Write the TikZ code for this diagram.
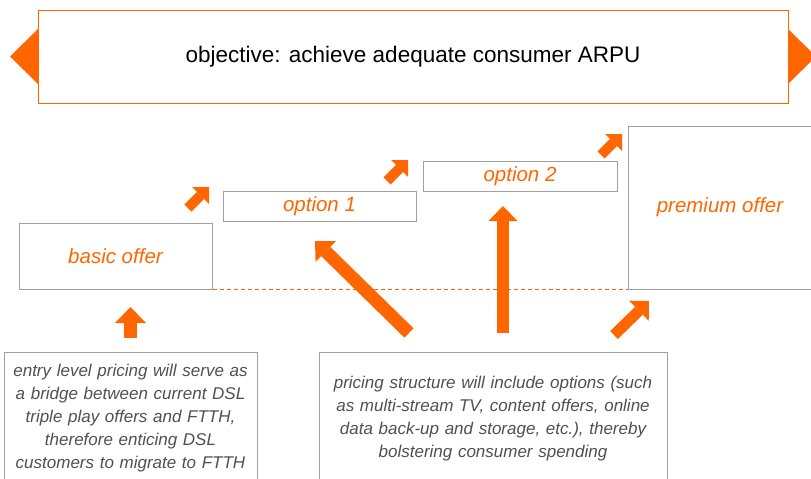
\documentclass[tikz,border=0pt]{standalone}
\usepackage{fontspec}
\setmainfont{Liberation Sans}
\usetikzlibrary{arrows.meta}
\definecolor{orng}{HTML}{FF6600}
\definecolor{boxgray}{HTML}{A0A0A0}
\definecolor{txtgray}{HTML}{505050}
\begin{document}
\begin{tikzpicture}[x=1pt,y=-1pt,
  topbox/.style={draw=orng, fill=white, line width=1pt, inner sep=0pt, minimum width=750pt, minimum height=93pt, font=\fontsize{22.5}{27}\selectfont},
  offerbox/.style={draw=boxgray, line width=1pt, inner sep=0pt, text=orng, font=\fontsize{20.5}{24}\selectfont\itshape},
  notebox/.style={draw=boxgray, line width=1pt, inner sep=0pt, text=txtgray, align=center, font=\fontsize{17}{23}\selectfont\itshape},
  smallarrow/.style={draw=orng, line width=10pt, -{Triangle[length=12pt,width=24pt,line width=0pt]}},
  midarrow/.style={draw=orng, line width=11pt, -{Triangle[length=14pt,width=28pt,line width=0pt]}},
  bigarrow/.style={draw=orng, line width=13pt, -{Triangle[length=15pt,width=29pt,line width=0pt]}},
  dashbase/.style={orng, line width=1.4pt, dash pattern=on 4pt off 3pt}
]
\clip (0,0) rectangle (811,479);
% side triangles of the objective banner
\fill[orng] (38,29) -- (10,56.5) -- (38,84) -- cycle;
\fill[orng] (788,29) -- (816,56.5) -- (788,84) -- cycle;
\node[topbox] (obj) at (413,56.5) {\raisebox{-1pt}{objective: achieve adequate consumer ARPU}};

% offer boxes
\node[offerbox, minimum width=193pt, minimum height=66pt] (basic) at (115.5,256) {basic offer};
\node[offerbox, minimum width=193pt, minimum height=30pt] (opt1) at (319.5,206) {option 1};
\node[offerbox, minimum width=194pt, minimum height=30pt] (opt2) at (520,176) {option 2};
\node[offerbox, minimum width=184pt, minimum height=163pt] (prem) at (720,207.5) {premium offer};

% dashed baseline
\draw[dashbase] (basic.south east) -- (prem.south west);

% note boxes
\node[notebox, minimum width=253pt, minimum height=132pt, text width=250pt] (noteL) at (130.5,418.5)
  {entry level pricing will serve as\\a bridge between current DSL\\triple play offers and FTTH,\\therefore enticing DSL\\customers to migrate to FTTH};
\node[notebox, minimum width=348pt, minimum height=132pt, text width=345pt] (noteR) at (493,418.5)
  {pricing structure will include options (such\\as multi-stream TV, content offers, online\\data back-up and storage, etc.), thereby\\bolstering consumer spending};

% step arrows
\coordinate (s1a) at (188,208); \coordinate (s1b) at (209,187);
\coordinate (s2a) at (387,181); \coordinate (s2b) at (408,160);
\coordinate (s3a) at (601,155); \coordinate (s3b) at (622,134);
\draw[smallarrow] (s1a) -- (s1b);
\draw[smallarrow] (s2a) -- (s2b);
\draw[smallarrow] (s3a) -- (s3b);

% arrows from notes
\coordinate (uL) at (130.5,338); \coordinate (uLt) at (130.5,307);
\draw[bigarrow, line width=13pt, -{Triangle[length=16pt,width=31pt,line width=0pt]}] (uL) -- (uLt);
\coordinate (dg) at (409,333); \coordinate (dgt) at (315,241);
\draw[bigarrow] (dg) -- (dgt);
\coordinate (vt) at (503,333); \coordinate (vtt) at (503,206);
\draw[bigarrow, line width=12pt] (vt) -- (vtt);
\coordinate (pa) at (614,335); \coordinate (pat) at (649,301);
\draw[midarrow] (pa) -- (pat);
\end{tikzpicture}
\end{document}
